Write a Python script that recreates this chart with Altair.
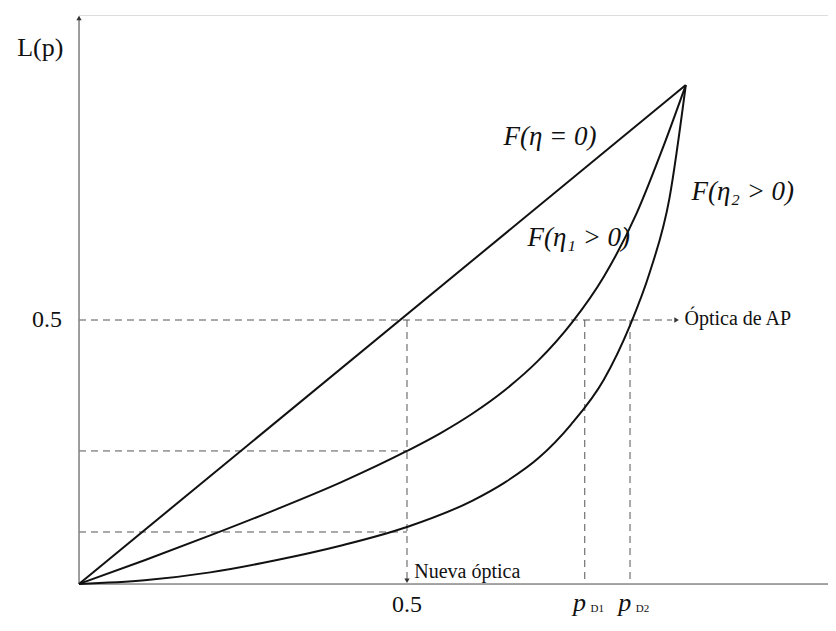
import altair as alt
import pandas as pd

# ---- data (in chart units) ----
line_eq_x = [0.0, 0.925]
line_eq_y = [0.0, 0.945]

eta1_x = [0.0, 0.1, 0.2, 0.3, 0.4, 0.5, 0.55, 0.6, 0.65, 0.7, 0.752, 0.8, 0.85, 0.89, 0.925]
eta1_y = [0.0, 0.045, 0.092, 0.141, 0.193, 0.252, 0.285, 0.323, 0.368, 0.423, 0.496, 0.582, 0.702, 0.826, 0.945]

eta2_x = [0.0, 0.1, 0.2, 0.3, 0.4, 0.5, 0.6, 0.65, 0.7, 0.75, 0.8, 0.84, 0.87, 0.9, 0.925]
eta2_y = [0.0, 0.007, 0.022, 0.045, 0.073, 0.108, 0.158, 0.193, 0.238, 0.302, 0.387, 0.49, 0.59, 0.73, 0.945]

# dashed guide lines (x, y, x2, y2)
guide_x = [0.0, 0.0, 0.0, 0.5, 0.771, 0.840]
guide_y = [0.5, 0.252, 0.0985, 0.5, 0.5, 0.5]
guide_x2 = [0.904, 0.5, 0.5, 0.5, 0.771, 0.840]
guide_y2 = [0.5, 0.252, 0.0985, 0.008, 0.0, 0.0]

X_MAX = 1.1418
Y_MAX = 1.0777

xs = alt.Scale(domain=[0, X_MAX], nice=False, zero=False)
ys = alt.Scale(domain=[0, Y_MAX], nice=False, zero=False)

curves = pd.DataFrame(
    [{"x": a, "y": b, "s": "eq"} for a, b in zip(line_eq_x, line_eq_y)]
    + [{"x": a, "y": b, "s": "e1"} for a, b in zip(eta1_x, eta1_y)]
    + [{"x": a, "y": b, "s": "e2"} for a, b in zip(eta2_x, eta2_y)]
)

guides = pd.DataFrame({"x": guide_x, "y": guide_y, "x2": guide_x2, "y2": guide_y2})

axes_df = pd.DataFrame({"x": [0.0, 0.0], "y": [0.0, 0.0], "x2": [X_MAX, 0.0], "y2": [0.0, 1.07]})

SERIF = "Liberation Serif"

curve_layer = alt.Chart(curves).mark_line(
    color="#111111", strokeWidth=2, interpolate="monotone"
).encode(
    x=alt.X("x:Q", scale=xs, axis=None),
    y=alt.Y("y:Q", scale=ys, axis=None),
    detail="s:N",
    order=alt.Order("x:Q"),
)

guide_layer = alt.Chart(guides).mark_rule(
    color="#555555", strokeWidth=1, strokeDash=[7, 5]
).encode(
    x=alt.X("x:Q", scale=xs, axis=None),
    y=alt.Y("y:Q", scale=ys, axis=None),
    x2="x2:Q",
    y2="y2:Q",
)

axis_layer = alt.Chart(axes_df).mark_rule(color="#8a8a8a", strokeWidth=1.6).encode(
    x=alt.X("x:Q", scale=xs, axis=None),
    y=alt.Y("y:Q", scale=ys, axis=None),
    x2="x2:Q",
    y2="y2:Q",
)

arrows = pd.DataFrame({
    "x": [0.911, 0.5, 0.0],
    "y": [0.5, 0.006, 1.072],
    "shape": ["triangle-right", "triangle-down", "triangle-up"],
})
arrow_layer = alt.Chart(arrows).mark_point(filled=True, color="#333333", size=28, opacity=1).encode(
    x=alt.X("x:Q", scale=xs, axis=None),
    y=alt.Y("y:Q", scale=ys, axis=None),
    shape=alt.Shape("shape:N", scale=None),
)

# text annotations
def txt(df, **kw):
    return alt.Chart(df).mark_text(font=SERIF, color="#111111", **kw).encode(
        x=alt.X("x:Q", scale=xs, axis=None),
        y=alt.Y("y:Q", scale=ys, axis=None),
        text="t:N",
    )

italic_labels = pd.DataFrame({
    "x": [0.718, 0.762, 1.012],
    "y": [0.847, 0.655, 0.742],
    "t": ["F(η = 0)", "F(η₁ > 0)", "F(η₂ > 0)"],
})
italic_layer = txt(italic_labels, fontSize=27, fontStyle="italic", align="center", baseline="middle")

p_labels = pd.DataFrame({"x": [0.763, 0.832], "y": [-0.036, -0.036], "t": ["p", "p"]})
p_layer = txt(p_labels, fontSize=26, fontStyle="italic", align="center", baseline="middle")

sub_labels = pd.DataFrame({"x": [0.79, 0.859], "y": [-0.047, -0.047], "t": ["D1", "D2"]})
sub_layer = txt(sub_labels, fontSize=11, align="center", baseline="middle")

x05 = pd.DataFrame({"x": [0.5], "y": [-0.04], "t": ["0.5"]})
x05_layer = txt(x05, fontSize=24, align="center", baseline="middle")

y05 = pd.DataFrame({"x": [-0.026], "y": [0.5], "t": ["0.5"]})
y05_layer = txt(y05, fontSize=24, align="right", baseline="middle")

lp = pd.DataFrame({"x": [-0.059], "y": [1.015], "t": ["L(p)"]})
lp_layer = txt(lp, fontSize=26, align="center", baseline="middle")

optica = pd.DataFrame({"x": [0.923], "y": [0.502], "t": ["Óptica de AP"]})
optica_layer = txt(optica, fontSize=20, align="left", baseline="middle")

nueva = pd.DataFrame({"x": [0.511], "y": [0.022], "t": ["Nueva óptica"]})
nueva_layer = txt(nueva, fontSize=20, align="left", baseline="middle")

chart = alt.layer(
    guide_layer, axis_layer, curve_layer, arrow_layer,
    italic_layer, p_layer, sub_layer, x05_layer, y05_layer, lp_layer,
    optica_layer, nueva_layer,
).properties(
    width=749,
    height=569,
    padding={"left": 71, "top": 7, "right": 0, "bottom": 36},
    autosize="none",
).configure_view(stroke=None).configure(background="white")

chart.save("out.html", embed_options={"renderer": "svg", "actions": False})
